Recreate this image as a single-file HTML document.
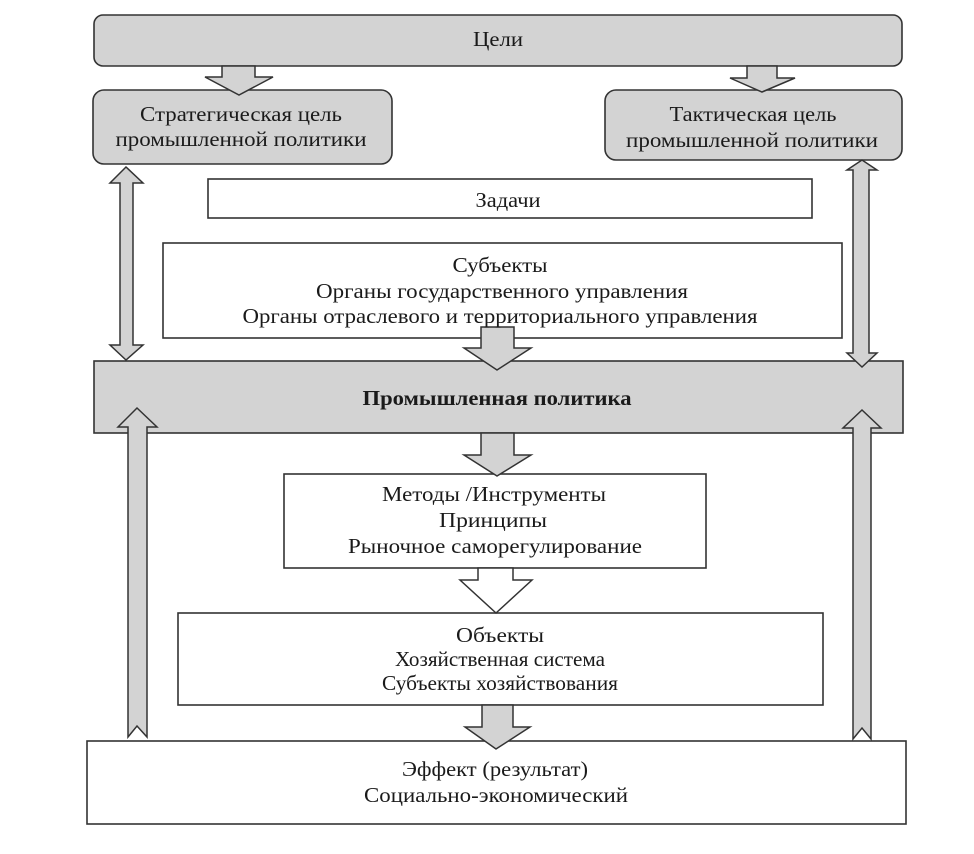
<!DOCTYPE html>
<html>
<head>
<meta charset="utf-8">
<style>
html,body{margin:0;padding:0;background:#fff;}
svg{display:block;}
text{font-family:"Liberation Serif","Noto Serif CJK SC",serif;fill:#1a1a1a;font-size:21px;}
</style>
</head>
<body>
<svg width="974" height="854" viewBox="0 0 974 854" xmlns="http://www.w3.org/2000/svg">
<g stroke="#333" stroke-width="1.6">
  <!-- Цели -->
  <rect x="94" y="15" width="808" height="51" rx="9" fill="#d3d3d3"/>
  <!-- Strategic -->
  <rect x="93" y="90" width="299" height="74" rx="11" fill="#d3d3d3"/>
  <!-- Tactical -->
  <rect x="605" y="90" width="297" height="70" rx="11" fill="#d3d3d3"/>
  <!-- Задачи -->
  <rect x="208" y="179" width="604" height="39" fill="#fff"/>
  <!-- Субъекты -->
  <rect x="163" y="243" width="679" height="95" fill="#fff"/>
  <!-- Промышленная политика -->
  <rect x="94" y="361" width="809" height="72" fill="#d3d3d3"/>
  <!-- Методы -->
  <rect x="284" y="474" width="422" height="94" fill="#fff"/>
  <!-- Объекты -->
  <rect x="178" y="613" width="645" height="92" fill="#fff"/>
  <!-- Эффект -->
  <rect x="87" y="741" width="819" height="83" fill="#fff"/>
</g>

<g stroke="#333" stroke-width="1.5" fill="#d3d3d3" stroke-linejoin="miter">
  <!-- Цели -> Strategic -->
  <polygon points="222,66 255,66 255,77 273,77 239,95 205,77 222,77"/>
  <!-- Цели -> Tactical -->
  <polygon points="747,66 777,66 777,78 795,78 762,92 730,78 747,78"/>
  <!-- Субъекты -> ПП -->
  <polygon points="481,327 514,327 514,348 531,348 497,370 464,348 481,348"/>
  <!-- ПП -> Методы -->
  <polygon points="481,433 514,433 514,455 531,455 497,476 464,455 481,455"/>
  <!-- Методы -> Объекты (white) -->
  <polygon points="478,568 513,568 513,580 532,580 496,613 460,580 478,580" fill="#fff"/>
  <!-- Объекты -> Эффект -->
  <polygon points="482,705 513,705 513,727 530,727 496,749 465,727 482,727"/>
  <!-- Left double arrow -->
  <polygon points="126,167 143,183 133,183 133,345 143,345 126,360 110,345 120,345 120,183 110,183"/>
  <!-- Right double arrow -->
  <polygon points="862,160 877,170 869,170 869,353 877,353 862,367 847,353 853,353 853,170 847,170"/>
  <!-- Left long up arrow -->
  <polygon points="137,408 157,427 147,427 147,737 137,726 128,737 128,427 118,427"/>
  <!-- Right long up arrow -->
  <polygon points="862,410 881,428 871,428 871,739 862,728 853,739 853,428 843,428"/>
</g>

<g text-anchor="middle">
  <text x="498" y="46" textLength="50" lengthAdjust="spacingAndGlyphs">Цели</text>
  <text x="241" y="121" textLength="202" lengthAdjust="spacingAndGlyphs">Стратегическая цель</text>
  <text x="241" y="146" textLength="251" lengthAdjust="spacingAndGlyphs">промышленной политики</text>
  <text x="753" y="121" textLength="167" lengthAdjust="spacingAndGlyphs">Тактическая цель</text>
  <text x="752" y="147" textLength="252" lengthAdjust="spacingAndGlyphs">промышленной политики</text>
  <text x="508" y="207" textLength="65" lengthAdjust="spacingAndGlyphs">Задачи</text>
  <text x="500" y="272" textLength="95" lengthAdjust="spacingAndGlyphs">Субъекты</text>
  <text x="502" y="298" textLength="372" lengthAdjust="spacingAndGlyphs">Органы государственного управления</text>
  <text x="500" y="323" textLength="515" lengthAdjust="spacingAndGlyphs">Органы отраслевого и территориального управления</text>
  <text x="497" y="405" font-weight="bold" textLength="269" lengthAdjust="spacingAndGlyphs">Промышленная политика</text>
  <text x="494" y="501" textLength="224" lengthAdjust="spacingAndGlyphs">Методы /Инструменты</text>
  <text x="493" y="527" textLength="108" lengthAdjust="spacingAndGlyphs">Принципы</text>
  <text x="495" y="553" textLength="294" lengthAdjust="spacingAndGlyphs">Рыночное саморегулирование</text>
  <text x="500" y="642" textLength="88" lengthAdjust="spacingAndGlyphs">Объекты</text>
  <text x="500" y="666" textLength="210" lengthAdjust="spacingAndGlyphs">Хозяйственная система</text>
  <text x="500" y="690" textLength="236" lengthAdjust="spacingAndGlyphs">Субъекты хозяйствования</text>
  <text x="495" y="776" textLength="186" lengthAdjust="spacingAndGlyphs">Эффект (результат)</text>
  <text x="496" y="802" textLength="264" lengthAdjust="spacingAndGlyphs">Социально-экономический</text>
</g>
</svg>
</body>
</html>
